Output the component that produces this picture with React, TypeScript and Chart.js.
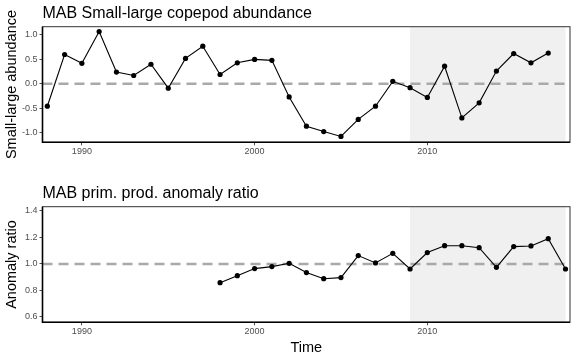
import React, { useEffect, useRef } from "react";
import { Chart, registerables } from "chart.js";

Chart.register(...registerables);

// ---------- data ----------
const copepodYears = [
  1988, 1989, 1990, 1991, 1992, 1993, 1994, 1995, 1996, 1997,
  1998, 1999, 2000, 2001, 2002, 2003, 2004, 2005, 2006, 2007,
  2008, 2009, 2010, 2011, 2012, 2013, 2014, 2015, 2016, 2017,
];
const copepodValues = [
  -0.46, 0.6, 0.42, 1.07, 0.24, 0.17, 0.4, -0.09, 0.52, 0.77,
  0.19, 0.43, 0.5, 0.48, -0.27, -0.87, -0.98, -1.08, -0.73, -0.46,
  0.05, -0.08, -0.28, 0.36, -0.7, -0.39, 0.26, 0.62, 0.43, 0.63,
];
const ppYears = [
  1998, 1999, 2000, 2001, 2002, 2003, 2004, 2005, 2006, 2007,
  2008, 2009, 2010, 2011, 2012, 2013, 2014, 2015, 2016, 2017, 2018,
];
const ppValues = [
  0.859, 0.912, 0.965, 0.98, 1.005, 0.935, 0.889, 0.897, 1.063, 1.008,
  1.08, 0.962, 1.086, 1.138, 1.138, 1.123, 0.975, 1.131, 1.136, 1.191, 0.962,
];
const xTickValues = [1990, 2000, 2010];
const copepodYTicks = [-1, -0.5, 0, 0.5, 1];
const ppYTicks = [0.6, 0.8, 1.0, 1.2, 1.4];
const shadeStart = 2009;
const shadeEnd = 2018;
const xMin = 1987.72;
const xMax = 2018.26;

const FONT = "'Liberation Sans', Arial, Helvetica, sans-serif";

type PanelSpec = {
  title: string;
  yTitle: string;
  xTitle?: string;
  years: number[];
  values: number[];
  yTicks: number[];
  yMin: number;
  yMax: number;
  refLine: number;
};

function makeChart(canvas: HTMLCanvasElement, spec: PanelSpec) {
  const decor = {
    id: "decor",
    beforeDatasetsDraw(chart: any) {
      const { ctx, chartArea } = chart;
      const xs = chart.scales.x;
      const ys = chart.scales.y;
      ctx.save();
      // shaded region
      const x0 = xs.getPixelForValue(shadeStart);
      const x1 = xs.getPixelForValue(shadeEnd);
      ctx.fillStyle = "#f0f0f0";
      ctx.fillRect(x0, chartArea.top, x1 - x0, chartArea.bottom - chartArea.top);
      // reference dashed line
      const yr = ys.getPixelForValue(spec.refLine);
      ctx.strokeStyle = "#a9a9a9";
      ctx.lineWidth = 2.4;
      ctx.setLineDash([10, 6]);
      ctx.beginPath();
      ctx.moveTo(chartArea.left, yr);
      ctx.lineTo(chartArea.right, yr);
      ctx.stroke();
      ctx.restore();
    },
    afterDraw(chart: any) {
      const { ctx, chartArea } = chart;
      ctx.save();
      // panel border
      ctx.strokeStyle = "#333333";
      ctx.lineWidth = 1;
      ctx.strokeRect(
        chartArea.left,
        chartArea.top,
        chartArea.right - chartArea.left,
        chartArea.bottom - chartArea.top
      );
      ctx.strokeStyle = "#000000";
      ctx.lineWidth = 1.6;
      ctx.beginPath();
      ctx.moveTo(chartArea.left, chartArea.top);
      ctx.lineTo(chartArea.left, chartArea.bottom);
      ctx.lineTo(chartArea.right, chartArea.bottom);
      ctx.stroke();
      // title
      ctx.fillStyle = "#000000";
      ctx.font = `16px ${FONT}`;
      ctx.textAlign = "left";
      ctx.textBaseline = "alphabetic";
      ctx.fillText(spec.title, chartArea.left, 18);
      // y title
      ctx.save();
      ctx.translate(16.4, (chartArea.top + chartArea.bottom) / 2);
      ctx.rotate(-Math.PI / 2);
      ctx.font = `14.5px ${FONT}`;
      ctx.textAlign = "center";
      ctx.fillText(spec.yTitle, 0, 0);
      ctx.restore();
      // x title
      if (spec.xTitle) {
        ctx.font = `14.5px ${FONT}`;
        ctx.textAlign = "center";
        ctx.fillText(spec.xTitle, (chartArea.left + chartArea.right) / 2, 172.3);
      }
      ctx.restore();
    },
  };

  return new Chart(canvas, {
    type: "line",
    data: {
      datasets: [
        {
          data: spec.years.map((y, i) => ({ x: y, y: spec.values[i] })),
          borderColor: "#000000",
          borderWidth: 1.1,
          pointRadius: 2.6,
          pointBackgroundColor: "#000000",
          pointBorderWidth: 0,
          tension: 0,
          fill: false,
        },
      ],
    },
    options: {
      responsive: false,
      animation: false,
      devicePixelRatio: 1,
      layout: { padding: { top: 26.7, right: 6, left: 0, bottom: 0 } },
      plugins: { legend: { display: false }, tooltip: { enabled: false }, title: { display: false } },
      scales: {
        x: {
          type: "linear",
          min: xMin,
          max: xMax,
          afterBuildTicks: (scale: any) => {
            scale.ticks = xTickValues.map((v) => ({ value: v }));
          },
          afterFit: (scale: any) => {
            scale.height = 180 - 142.3;
          },
          ticks: {
            font: { family: FONT, size: 9 },
            color: "#4d4d4d",
            padding: 1,
            maxRotation: 0,
            autoSkip: false,
            callback: (v: any) => String(v),
          },
          grid: { drawOnChartArea: false, drawTicks: true, tickLength: 3, color: "#4d4d4d" },
          border: { display: false },
        },
        y: {
          type: "linear",
          min: spec.yMin,
          max: spec.yMax,
          afterBuildTicks: (scale: any) => {
            scale.ticks = spec.yTicks.map((v) => ({ value: v }));
          },
          afterFit: (scale: any) => {
            scale.width = 42.5;
          },
          ticks: {
            font: { family: FONT, size: 9 },
            color: "#4d4d4d",
            padding: 2,
            autoSkip: false,
            callback: (v: any) => Number(v).toFixed(1),
          },
          grid: { drawOnChartArea: false, drawTicks: true, tickLength: 3, color: "#4d4d4d" },
          border: { display: false },
        },
      },
    },
    plugins: [decor],
  });
}

export default function App() {
  const topRef = useRef<HTMLCanvasElement>(null);
  const botRef = useRef<HTMLCanvasElement>(null);

  useEffect(() => {
    const c1 = makeChart(topRef.current!, {
      title: "MAB Small-large copepod abundance",
      yTitle: "Small-large abundance",
      years: copepodYears,
      values: copepodValues,
      yTicks: copepodYTicks,
      yMin: -1.2,
      yMax: 1.17,
      refLine: 0,
    });
    const c2 = makeChart(botRef.current!, {
      title: "MAB prim. prod. anomaly ratio",
      yTitle: "Anomaly ratio",
      xTitle: "Time",
      years: ppYears,
      values: ppValues,
      yTicks: ppYTicks,
      yMin: 0.56,
      yMax: 1.432,
      refLine: 1,
    });
    return () => {
      c1.destroy();
      c2.destroy();
    };
  }, []);

  return (
    <div style={{ position: "absolute", left: 0, top: 0, width: 576, height: 360, background: "#fff" }}>
      <canvas ref={topRef} width={576} height={180} style={{ display: "block", width: 576, height: 180 }} />
      <canvas ref={botRef} width={576} height={180} style={{ display: "block", width: 576, height: 180 }} />
    </div>
  );
}
